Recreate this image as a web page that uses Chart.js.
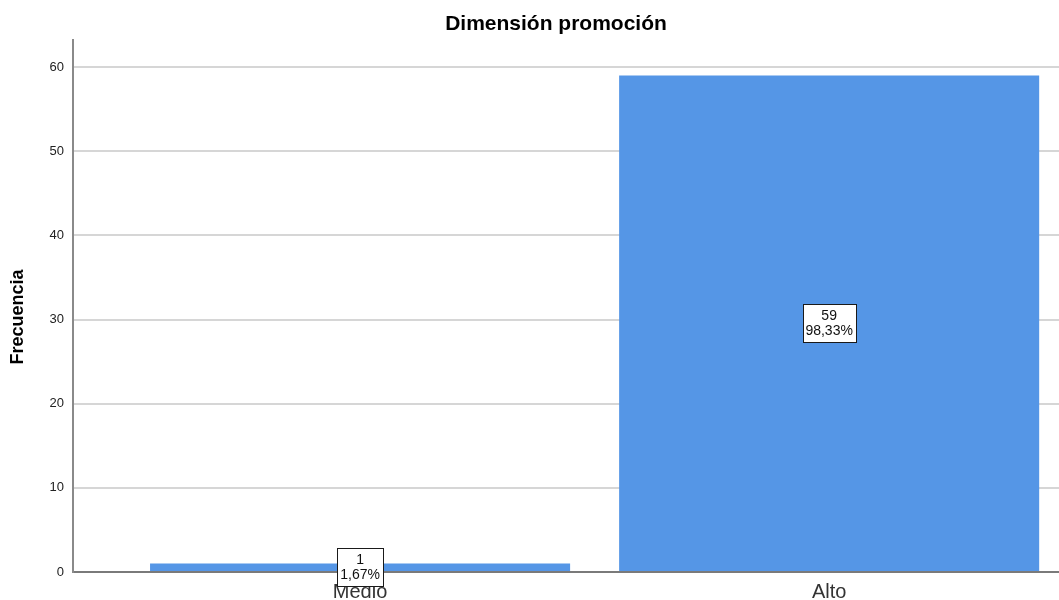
<!DOCTYPE html>
<html>
<head>
<meta charset="utf-8">
<script src="https://cdn.jsdelivr.net/npm/chart.js@4/dist/chart.umd.min.js"></script>
<style>
  html, body { margin: 0; padding: 0; background: #fff; overflow: hidden; }
  #wrap { width: 1059px; height: 600px; position: relative; }
</style>
</head>
<body>
<div id="wrap"><canvas id="chart"></canvas></div>
<script>
// Frequency of each level of the promotion dimension
const categories = ['Medio', 'Alto'];
const counts = [1, 59];
const yTicks = [0, 10, 20, 30, 40, 50, 60];
const chartTitle = 'Dimensión promoción';
const yTitle = 'Frecuencia';

const total = counts.reduce((a, b) => a + b, 0);
const percentLabel = v => (v / total * 100).toFixed(2).replace('.', ',') + '%';

const points = counts.map((c, i) => ({ x: i, y: c }));

// White boxed count + percentage at the middle of each bar, plus title texts
const annotate = {
  id: 'annotate',
  afterDatasetsDraw(chart) {
    const ctx = chart.ctx;
    const meta = chart.getDatasetMeta(0);
    ctx.save();
    ctx.font = '14px "Liberation Sans", Arial, sans-serif';
    ctx.textAlign = 'center';
    ctx.textBaseline = 'middle';
    meta.data.forEach((bar, i) => {
      const cx = bar.x;
      const cy = (bar.y + bar.base) / 2;
      const l1 = String(counts[i]);
      const l2 = percentLabel(counts[i]);
      const w = Math.round(Math.max(ctx.measureText(l1).width, ctx.measureText(l2).width) + 6);
      const h = 38;
      const x0 = Math.round(cx - w / 2), y0 = Math.round(cy - h / 2);
      ctx.fillStyle = '#ffffff';
      ctx.fillRect(x0, y0, w, h);
      ctx.strokeStyle = '#1a1a1a';
      ctx.lineWidth = 1;
      ctx.strokeRect(x0 + 0.5, y0 + 0.5, w, h);
      ctx.fillStyle = '#111';
      ctx.fillText(l1, cx, cy - 7);
      ctx.fillText(l2, cx, cy + 8);
    });
    ctx.restore();
  },
  afterDraw(chart) {
    const ctx = chart.ctx;
    ctx.save();
    ctx.fillStyle = '#000';
    ctx.textAlign = 'center';
    ctx.textBaseline = 'middle';
    ctx.font = 'bold 21px "Liberation Sans", Arial, sans-serif';
    ctx.fillText(chartTitle, 556, 24);
    ctx.translate(18, 317);
    ctx.rotate(-Math.PI / 2);
    ctx.font = 'bold 18px "Liberation Sans", Arial, sans-serif';
    ctx.fillText(yTitle, 0, 0);
    ctx.restore();
  }
};

new Chart(document.getElementById('chart'), {
  type: 'bar',
  data: {
    datasets: [{
      data: points,
      backgroundColor: '#5596E6',
      borderWidth: 0,
      categoryPercentage: 1,
      barPercentage: 0.8955
    }]
  },
  options: {
    responsive: true,
    maintainAspectRatio: false,
    animation: false,
    layout: { padding: { top: 40, right: 0, bottom: 0, left: 0 } },
    plugins: {
      legend: { display: false },
      title: { display: false },
      tooltip: { enabled: false }
    },
    scales: {
      x: {
        type: 'linear',
        offset: false,
        min: -0.612,
        max: 1.49,
        afterBuildTicks: s => { s.ticks = categories.map((_, i) => ({ value: i })); },
        afterFit: s => { s.height = 28; },
        grid: { display: false, drawTicks: false, offset: false },
        border: { color: '#7a7a7a', width: 2 },
        ticks: {
          callback: v => categories[v],
          color: '#333',
          padding: 8,
          maxRotation: 0,
          font: { size: 20, family: '"Liberation Sans", Arial, sans-serif' }
        }
      },
      y: {
        min: 0,
        max: 63.21,
        afterBuildTicks: s => { s.ticks = yTicks.map(v => ({ value: v })); },
        afterFit: s => { s.width = 73; },
        grid: { color: '#d6d6d6', lineWidth: 2, drawTicks: false },
        border: { color: '#8a8a8a', width: 2 },
        ticks: {
          color: '#222',
          padding: 9,
          font: { size: 13, family: '"Liberation Sans", Arial, sans-serif' }
        }
      }
    }
  },
  plugins: [annotate]
});
</script>
</body>
</html>
